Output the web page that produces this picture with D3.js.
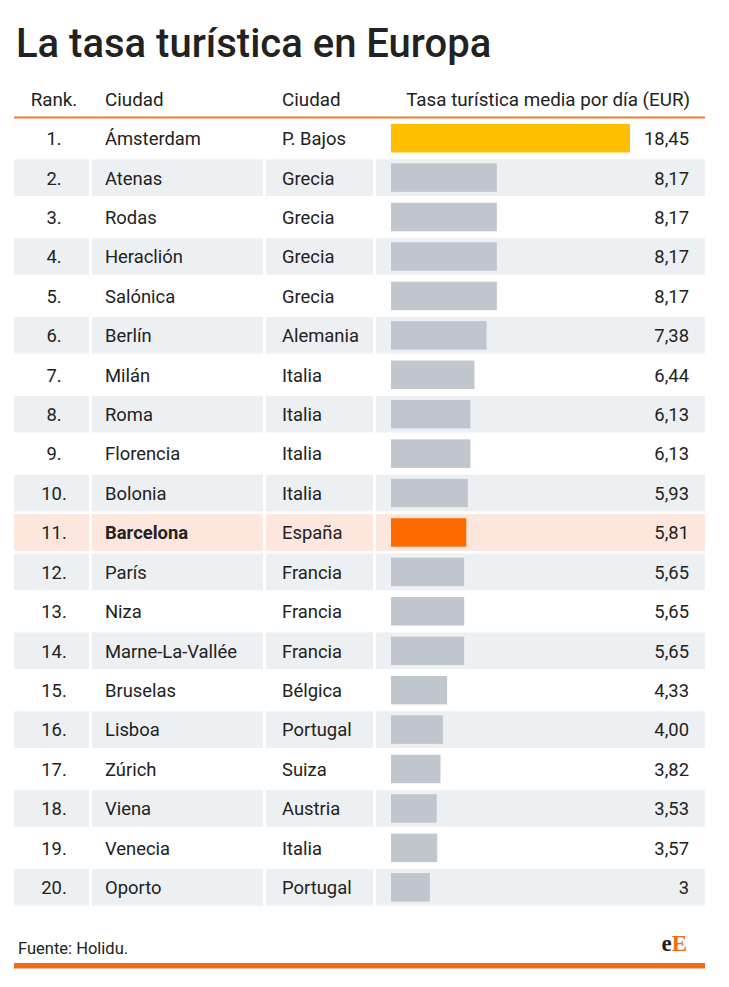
<!DOCTYPE html>
<html>
<head>
<meta charset="utf-8">
<script src="https://cdn.jsdelivr.net/npm/d3@7"></script>
<style>
  body { margin: 0; background: #fff; }
  svg text { font-family: Roboto, "Noto Sans", sans-serif; fill: #222; }
</style>
</head>
<body>
<div id="chart"></div>
<script>
const ranks = ["1.", "2.", "3.", "4.", "5.", "6.", "7.", "8.", "9.", "10.",
  "11.", "12.", "13.", "14.", "15.", "16.", "17.", "18.", "19.", "20."];
const cities = ["Ámsterdam", "Atenas", "Rodas", "Heraclión", "Salónica", "Berlín",
  "Milán", "Roma", "Florencia", "Bolonia", "Barcelona", "París", "Niza",
  "Marne-La-Vallée", "Bruselas", "Lisboa", "Zúrich", "Viena", "Venecia", "Oporto"];
const countries = ["P. Bajos", "Grecia", "Grecia", "Grecia", "Grecia", "Alemania",
  "Italia", "Italia", "Italia", "Italia", "España", "Francia", "Francia", "Francia",
  "Bélgica", "Portugal", "Suiza", "Austria", "Italia", "Portugal"];
const values = [18.45, 8.17, 8.17, 8.17, 8.17, 7.38, 6.44, 6.13, 6.13, 5.93,
  5.81, 5.65, 5.65, 5.65, 4.33, 4.00, 3.82, 3.53, 3.57, 3];
const valueLabels = ["18,45", "8,17", "8,17", "8,17", "8,17", "7,38", "6,44", "6,13",
  "6,13", "5,93", "5,81", "5,65", "5,65", "5,65", "4,33", "4,00", "3,82", "3,53",
  "3,57", "3"];
const headers = ["Rank.", "Ciudad", "Ciudad", "Tasa turística media por día (EUR)"];

const width = 729;
const height = 987;

const data = ranks.map((r, i) => ({
  rank: r, city: cities[i], country: countries[i], value: values[i], label: valueLabels[i]
}));

const svg = d3.select("#chart").append("svg")
  .attr("width", width)
  .attr("height", height);

svg.append("rect").attr("width", width).attr("height", height).attr("fill", "#fff");

// title
svg.append("text")
  .attr("x", 16)
  .attr("y", 57)
  .attr("font-size", 40)
  .attr("font-weight", 500)
  .text("La tasa turística en Europa");

// column cells: [x0, x1]
const cols = [[14, 89], [92, 263], [266, 373], [376, 705]];

const y = d3.scaleBand()
  .domain(ranks)
  .range([118.5, 907])
  .paddingInner(0.07)
  .paddingOuter(0.035);

const x = d3.scaleLinear()
  .domain([0, d3.max(values)])
  .range([391, 630]);

// header
const headerX = [54, 105, 282, 690];
const headerAnchor = ["middle", "start", "start", "end"];
svg.selectAll(".head")
  .data(headers)
  .enter()
  .append("text")
  .attr("x", (d, i) => headerX[i])
  .attr("y", 106)
  .attr("font-size", 18.8)
  .attr("text-anchor", (d, i) => headerAnchor[i])
  .text(d => d);

svg.append("line")
  .attr("x1", 14).attr("x2", 705)
  .attr("y1", 117.5).attr("y2", 117.5)
  .attr("stroke", "#f07a32")
  .attr("stroke-width", 2);

const rows = svg.selectAll(".row")
  .data(data)
  .enter()
  .append("g")
  .attr("class", "row")
  .attr("transform", d => `translate(0,${y(d.rank)})`);

function rowFill(d, i) {
  if (d.city === "Barcelona") return "#fde6dd";
  return i % 2 === 1 ? "#edf0f3" : "#fff";
}

cols.forEach(c => {
  rows.append("rect")
    .attr("x", c[0])
    .attr("width", c[1] - c[0])
    .attr("height", y.bandwidth())
    .attr("fill", rowFill);
});

const mid = y.bandwidth() / 2;
const textDy = 6.9;
const fs = 18.4;

rows.append("text")
  .attr("x", 54)
  .attr("y", mid + textDy)
  .attr("font-size", fs)
  .attr("text-anchor", "middle")
  .text(d => d.rank);

rows.append("text")
  .attr("x", 105)
  .attr("y", mid + textDy)
  .attr("font-size", fs)
  .attr("font-weight", d => d.city === "Barcelona" ? 700 : 400)
  .text(d => d.city);

rows.append("text")
  .attr("x", 282)
  .attr("y", mid + textDy)
  .attr("font-size", fs)
  .text(d => d.country);

const barH = 28.5;
rows.append("rect")
  .attr("x", x(0))
  .attr("y", mid - barH / 2)
  .attr("width", d => x(d.value) - x(0))
  .attr("height", barH)
  .attr("fill", d => d.city === "Ámsterdam" ? "#ffbf00" : d.city === "Barcelona" ? "#ff6a00" : "#c0c6ce");

rows.append("text")
  .attr("x", 689)
  .attr("y", mid + textDy)
  .attr("font-size", fs)
  .attr("text-anchor", "end")
  .text(d => d.label);

// footer
svg.append("text")
  .attr("x", 18)
  .attr("y", 954)
  .attr("font-size", 16.5)
  .text("Fuente: Holidu.");

const logo = svg.append("text")
  .attr("x", 687)
  .attr("y", 951)
  .attr("text-anchor", "end")
  .style("font-family", "'Liberation Serif', 'DejaVu Serif', serif")
  .style("font-size", "23px")
  .style("font-weight", 700);
logo.append("tspan").text("e").style("fill", "#222");
logo.append("tspan").text("E").style("fill", "#f26a1b");

svg.append("rect")
  .attr("x", 14)
  .attr("y", 963)
  .attr("width", 691)
  .attr("height", 5.5)
  .attr("fill", "#f26a1b");
</script>
</body>
</html>
